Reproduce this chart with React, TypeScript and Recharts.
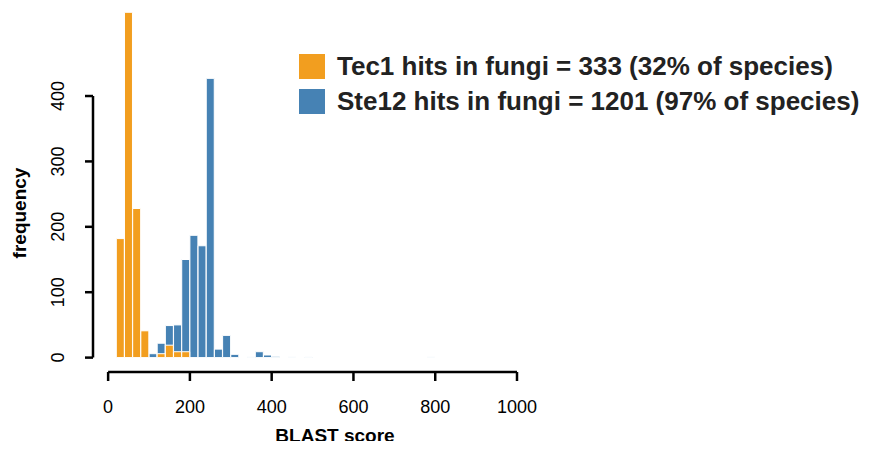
import React from "react";
import {
  BarChart,
  Bar,
  XAxis,
  YAxis,
  Legend,
  ReferenceLine,
} from "recharts";

// histogram bins of width 20, given by bin centre
const binCenters = [
  30, 50, 70, 90, 110, 130, 150, 170, 190, 210, 230, 250, 270, 290, 310, 330,
  350, 370, 390, 410, 430, 450, 470, 490, 790,
];
const tec1Counts = [
  182, 528, 228, 41, 0, 6, 19, 9, 9, 0, 0, 0, 0, 0, 0, 0, 0, 0, 0, 0, 0, 0, 0,
  0, 0,
];
const ste12Counts = [
  0, 0, 0, 0, 6, 22, 49, 50, 150, 187, 171, 427, 13, 34, 5, 0, 1, 9, 4, 2, 0,
  1, 0, 1, 1,
];

const seriesNames = [
  "Tec1 hits in fungi = 333 (32% of species)",
  "Ste12 hits in fungi = 1201 (97% of species)",
];
const seriesColors = ["#F29E1F", "#4682B4"];

const xTicks = [0, 200, 400, 600, 800, 1000];
const yTicks = [0, 100, 200, 300, 400];

const data = binCenters.map((x, i) => ({
  x,
  tec1: tec1Counts[i],
  ste12: ste12Counts[i],
}));

const FONT = "'Liberation Sans', Arial, Helvetica, sans-serif";

const YTick = ({ x, y, payload }: any) => (
  <text
    transform={`translate(${x - 27}, ${y}) rotate(-90)`}
    textAnchor="middle"
    dominantBaseline="central"
    fontSize={18}
    fontFamily={FONT}
    fill="#000"
  >
    {payload.value}
  </text>
);

const LegendBox = () => (
  <div style={{ fontFamily: FONT }}>
    {seriesNames.map((name, i) => (
      <div
        key={name}
        style={{ display: "flex", alignItems: "center", height: 35 }}
      >
        <span
          style={{
            width: 26,
            height: 25,
            flex: "none",
            background: seriesColors[i],
            marginRight: 12,
            display: "inline-block",
          }}
        />
        <span
          style={{
            fontSize: 26,
            fontWeight: "bold",
            color: "#222",
            whiteSpace: "nowrap",
            flex: "none",
          }}
        >
          {name}
        </span>
      </div>
    ))}
  </div>
);

export default function App() {
  return (
    <div style={{ marginBottom: -8 }}>
      <BarChart
        width={860}
        height={441}
        data={data}
        margin={{ top: 3, right: 351, left: 5, bottom: 2 }}
        barGap={-8}
      >
        <XAxis
          dataKey="x"
          type="number"
          domain={[-37, 1000]}
          ticks={xTicks}
          axisLine={false}
          tickLine={{ stroke: "#000", strokeWidth: 2.5 }}
          tickSize={9}
          tickMargin={19}
          tick={{ fontSize: 18, fill: "#000", fontFamily: FONT }}
          height={75}
          label={({ viewBox }: any) => (
            <text
              x={viewBox.x + 242}
              y={viewBox.y + 70}
              textAnchor="middle"
              fontSize={19}
              fontWeight="bold"
              fontFamily={FONT}
              fill="#000"
            >
              BLAST score
            </text>
          )}
        />
        <YAxis
          type="number"
          domain={[-22, 530]}
          ticks={yTicks}
          axisLine={false}
          tickLine={{ stroke: "#000", strokeWidth: 2.5 }}
          tickSize={8}
          tickMargin={0}
          tick={<YTick />}
          width={80}
          label={({ viewBox }: any) => (
            <text
              transform={`translate(${viewBox.x + 6}, ${viewBox.y + 202}) rotate(-90)`}
              textAnchor="middle"
              dominantBaseline="central"
              fontSize={19}
              fontWeight="bold"
              fontFamily={FONT}
              fill="#000"
            >
              frequency
            </text>
          )}
        />
        <ReferenceLine
          segment={[
            { x: 0, y: -22 },
            { x: 1000, y: -22 },
          ]}
          stroke="#000"
          strokeWidth={2.5}
          ifOverflow="visible"
        />
        <ReferenceLine
          segment={[
            { x: -37, y: 0 },
            { x: -37, y: 400 },
          ]}
          stroke="#000"
          strokeWidth={2.5}
          ifOverflow="visible"
        />
        <Bar
          dataKey="ste12"
          name={seriesNames[1]}
          fill={seriesColors[1]}
          stroke="#ffffff"
          strokeWidth={1}
          barSize={8}
          isAnimationActive={false}
        />
        <Bar
          dataKey="tec1"
          name={seriesNames[0]}
          fill={seriesColors[0]}
          stroke="#ffffff"
          strokeWidth={1}
          barSize={8}
          isAnimationActive={false}
        />
        <Legend
          layout="vertical"
          align="center"
          verticalAlign="middle"
          content={<LegendBox />}
          wrapperStyle={{ top: 41, left: 291, width: "auto" }}
        />
      </BarChart>
    </div>
  );
}
